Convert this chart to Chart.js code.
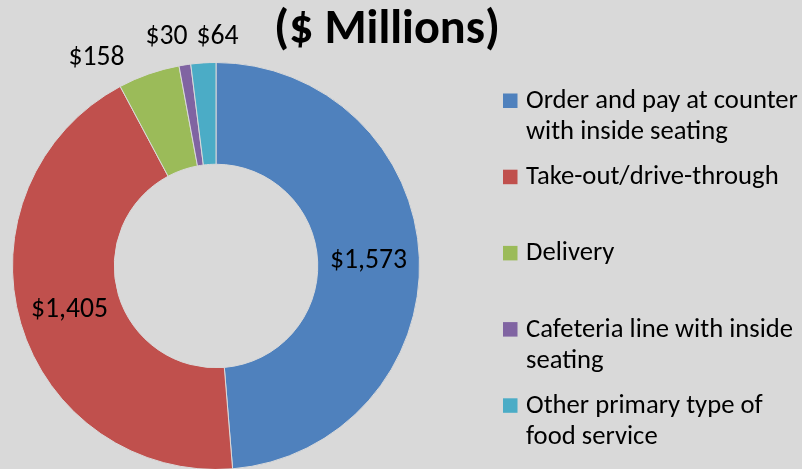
<!DOCTYPE html>
<html>
<head>
<meta charset="utf-8">
<script src="https://cdn.jsdelivr.net/npm/chart.js@4.4.1/dist/chart.umd.min.js"></script>
<style>
  html, body { margin: 0; padding: 0; background: #d9d9d9; overflow: hidden; }
  #wrap { width: 802px; height: 480px; }
</style>
</head>
<body>
<div id="wrap"><canvas id="chart_services" width="802" height="480"></canvas></div>
<script>
// data
var categories = [
  'Order and pay at counter with inside seating',
  'Take-out/drive-through',
  'Delivery',
  'Cafeteria line with inside seating',
  'Other primary type of food service'
]
var sales = [1573, 1405, 158, 30, 64]
var valueLabels = ['$1,573', '$1,405', '$158', '$30', '$64']
var chartTitle = '($ Millions)'

var colors = ['#4f81bd', '#c0504d', '#9bbb59', '#8064a2', '#4bacc6']
// nudges for the outside labels (px), like excel's best fit
var outsideNudge = [[0, 0], [0, 0], [-43, 10], [-14, -1], [16, 1]]

var FONT = 'Carlito, Calibri, Lato, sans-serif'

function fitSize(ctx, text, weight, width){
  ctx.font = weight + ' 20px ' + FONT
  return 20 * width / ctx.measureText(text).width
}

function wrap(ctx, text, maxw){
  var words = text.split(' '), lines = [], cur = ''
  words.forEach(function (w) {
    var t = cur ? cur + ' ' + w : w
    if (cur && ctx.measureText(t).width > maxw) { lines.push(cur); cur = w } else { cur = t }
  })
  lines.push(cur)
  return lines
}

var extras = {
  id: 'extras',
  afterDraw: function (chart) {
    var ctx = chart.ctx
    var meta = chart.getDatasetMeta(0)
    var total = sales.reduce(function (a, b) { return a + b }, 0)
    ctx.save()

    // title
    var ts = fitSize(ctx, chartTitle, 'bold', 226)
    ctx.font = 'bold ' + ts + 'px ' + FONT
    ctx.fillStyle = '#000'
    ctx.textAlign = 'center'
    ctx.textBaseline = 'alphabetic'
    ctx.fillText(chartTitle, 387, 43)

    // value labels
    var ls = fitSize(ctx, '$1,405', 'normal', 77)
    ctx.font = ls + 'px ' + FONT
    meta.data.forEach(function (arc, i) {
      var p = arc.getProps(['x', 'y', 'startAngle', 'endAngle', 'innerRadius', 'outerRadius'], true)
      var mid = (p.startAngle + p.endAngle) / 2
      var r, dx = 0, dy = 0
      if (sales[i] / total > 0.1) {
        r = (p.innerRadius + p.outerRadius) / 2
      } else {
        r = p.outerRadius + 28
        dx = outsideNudge[i][0]; dy = outsideNudge[i][1]
      }
      var x = p.x + Math.cos(mid) * r + dx
      var y = p.y + Math.sin(mid) * r + dy
      ctx.fillText(valueLabels[i], x, y + 8)
    })

    // legend
    var gs = fitSize(ctx, 'Order and pay at counter', 'normal', 272)
    ctx.font = gs + 'px ' + FONT
    ctx.textAlign = 'left'
    categories.forEach(function (c, i) {
      var base = 108 + i * 76.2
      ctx.fillStyle = colors[i]
      ctx.fillRect(503, base - 14.5, 14.5, 14.5)
      ctx.fillStyle = '#000'
      wrap(ctx, c, 275).forEach(function (line, j) {
        ctx.fillText(line, 526, base + j * 31)
      })
    })
    ctx.restore()
  }
}

var chart = new Chart(document.getElementById('chart_services').getContext('2d'), {
  type: 'doughnut',
  data: {
    labels: categories,
    datasets: [{
      data: sales,
      backgroundColor: colors,
      borderColor: '#d9d9d9',
      borderWidth: 1
    }]
  },
  options: {
    responsive: false,
    animation: false,
    cutout: '50%',
    layout: { padding: { left: 12, right: 382, top: 62, bottom: 10 } },
    plugins: {
      legend: { display: false },
      tooltip: { enabled: false },
      title: { display: false }
    }
  },
  plugins: [extras]
})
</script>
</body>
</html>
